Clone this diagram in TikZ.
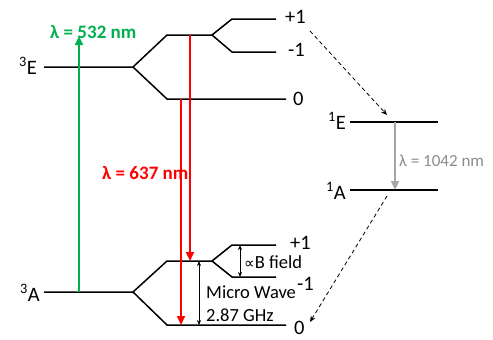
\documentclass[tikz,border=0pt]{standalone}
\usepackage{fontspec}
\setmainfont{Carlito}
\newfontfamily\djv{DejaVu Sans}
\usetikzlibrary{arrows.meta}
\definecolor{lgreen}{HTML}{00B050}
\definecolor{lred}{HTML}{FF0000}
\definecolor{lgray}{HTML}{A6A6A6}
\definecolor{tgray}{HTML}{8C8C8C}
\begin{document}
\begin{tikzpicture}[x=1pt,y=-1pt,
  lvl/.style={line width=1.5pt,black},
  lbl/.style={font=\fontsize{20.5}{20.5}\selectfont,inner sep=0pt},
  small/.style={font=\fontsize{18.5}{18.5}\selectfont,inner sep=0pt},
  bold/.style={font=\bfseries\fontsize{19}{19}\selectfont,inner sep=0pt},
  bigarrow/.style={line width=2.6pt,-{Triangle[length=9pt,width=8pt]}},
  dasharrow/.style={line width=0.8pt,dashed,dash pattern=on 4pt off 3pt,-{Stealth[length=6pt,width=5pt]}},
  dbl/.style={line width=0.6pt,{Stealth[length=5pt,width=4pt]}-{Stealth[length=5pt,width=4pt]}}]
\useasboundingbox (0,0) rectangle (493,340);
% ---- 3E manifold
\coordinate (e0) at (44,67);
\coordinate (es) at (133,67);
\coordinate (eu) at (167,35);
\coordinate (eus) at (212,35);
\coordinate (ed) at (167,99);
\coordinate (ede) at (286,99);
\coordinate (ep1a) at (232,19);
\coordinate (ep1b) at (276,19);
\coordinate (em1a) at (232,52);
\coordinate (em1b) at (276,52);
\draw[lvl] (e0) -- (es) -- (eu) -- (eus) -- (ep1a) -- (ep1b);
\draw[lvl] (eus) -- (em1a) -- (em1b);
\draw[lvl] (es) -- (ed) -- (ede);
\node[lbl,anchor=east] (lE3) at (37,66) {\textsuperscript{3}E};
\node[lbl,anchor=west] (lep1) at (285,17) {+1};
\node[lbl,anchor=west] (lem1) at (288,50) {-1};
\node[lbl,anchor=west] (le0) at (293,99) {0};
% ---- 3A manifold
\coordinate (a0) at (44,292);
\coordinate (as) at (133,292);
\coordinate (au) at (167,261);
\coordinate (aus) at (212,261);
\coordinate (ad) at (167,325);
\coordinate (ade) at (286,325);
\coordinate (ap1a) at (232,245);
\coordinate (ap1b) at (276,245);
\coordinate (am1a) at (232,277);
\coordinate (am1b) at (276,277);
\draw[lvl] (a0) -- (as) -- (au) -- (aus) -- (ap1a) -- (ap1b);
\draw[lvl] (aus) -- (am1a) -- (am1b);
\draw[lvl] (as) -- (ad) -- (ade);
\node[lbl,anchor=east] (lA3) at (40,293) {\textsuperscript{3}A};
\node[lbl,anchor=west] (lap1) at (290,243) {+1};
\node[lbl,anchor=west] (lam1) at (297,284) {-1};
\node[lbl,anchor=west] (la0) at (294,328) {0};
% ---- singlets
\coordinate (s1e0) at (350,122);
\coordinate (s1e1) at (438,122);
\coordinate (s1a0) at (350,190);
\coordinate (s1a1) at (438,190);
\draw[line width=1.2pt] (s1e0) -- (s1e1);
\draw[line width=1.2pt] (s1a0) -- (s1a1);
\node[lbl,anchor=east] (lE1) at (346,121) {\textsuperscript{1}E};
\node[lbl,anchor=east] (lA1) at (346,191) {\textsuperscript{1}A};
% ---- optical arrows
\coordinate (g0) at (79,292);
\coordinate (g1) at (79,36);
\draw[bigarrow,lgreen] (g0) -- (g1);
\node[bold,text=lgreen,anchor=west] (lg) at (50,32) {λ = 532 nm};
\coordinate (r1a) at (190,35);
\coordinate (r1b) at (190,261);
\coordinate (r2a) at (181,99);
\coordinate (r2b) at (181,325);
\draw[bigarrow,lred] (r1a) -- (r1b);
\draw[bigarrow,lred] (r2a) -- (r2b);
\node[bold,text=lred,anchor=west] (lr) at (102,173) {λ = 637 nm};
\coordinate (gr0) at (395,122);
\coordinate (gr1) at (395,190);
\draw[bigarrow,lgray] (gr0) -- (gr1);
\node[font=\fontsize{17}{17}\selectfont,inner sep=0pt,text=tgray,anchor=west] (lgr) at (399,161) {λ = 1042 nm};
% ---- intersystem crossing
\coordinate (d1a) at (310,31);
\coordinate (d1b) at (387,115);
\coordinate (d2a) at (387,196);
\coordinate (d2b) at (310,322);
\draw[dasharrow] (d1a) -- (d1b);
\draw[dasharrow] (d2a) -- (d2b);
% ---- splittings
\coordinate (b0) at (240,245);
\coordinate (b1) at (240,277);
\draw[dbl] (b0) -- (b1);
\node[small,anchor=west] (lb) at (244,262) {{\djv\fontsize{15}{15}\selectfont ∝}B field};
\coordinate (m0) at (199,261);
\coordinate (m1) at (199,325);
\draw[dbl] (m0) -- (m1);
\node[small,anchor=west] (lm1) at (206,292) {Micro Wave};
\node[small,anchor=west] (lm2) at (206,315) {2.87 GHz};
\end{tikzpicture}
\end{document}
